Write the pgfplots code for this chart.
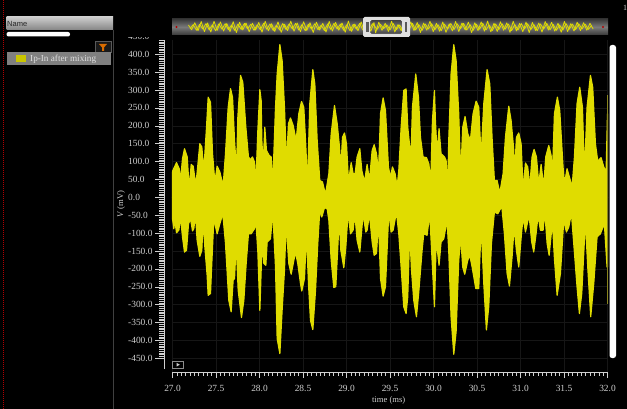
\documentclass[border=0pt]{standalone}
\usepackage{fontspec}
\setmainfont{Liberation Serif}
\newfontfamily\uisans{Liberation Sans}
\usepackage{pgfplots}
\pgfplotsset{compat=1.18}

\definecolor{trace}{HTML}{E0DC00}
\definecolor{tracedim}{HTML}{8A8520}
\definecolor{ticktext}{HTML}{D0D0D0}
\definecolor{gridc}{HTML}{161616}

\pgfplotsset{
  tick label style={
    /pgf/number format/fixed,
    /pgf/number format/fixed zerofill,
    /pgf/number format/precision=1,
    /pgf/number format/1000 sep={},
    /pgf/number format/assume math mode=true,
  },
}

\begin{document}
\begin{tikzpicture}
\path[use as bounding box,fill=black] (0pt,0pt) rectangle (627pt,-409pt);

% side panel
\begin{scope}[x=1pt,y=-1pt]
  \draw[densely dotted,line width=1pt,color=red!70!black] (3.5,0) -- (3.5,409);
  \draw[color=black!75,line width=0.7pt] (113,30) -- (113,409);
  \shade[top color=black!20,bottom color=black!48] (6.5,17) rectangle (113,30);
  \node[anchor=west,inner sep=0pt,text=black!85,font=\uisans\fontsize{7.5}{8}\selectfont] at (7,23.5) {Name};
  \fill[white,rounded corners=2pt] (6.5,32) rectangle (70,36.5);
  \draw[color=black!65,fill=black!90,line width=0.6pt] (95,41) rectangle (111,52);
  \fill[color=orange!85!black] (99,44) -- (107,44) -- (104,47.5) -- (104,51) -- (102,51) -- (102,47.5) -- cycle;
  \fill[color=black!50] (7,52.5) rectangle (111,65.5);
  \fill[color=trace!90!black] (16,55.5) rectangle (26,62);
  \node[anchor=west,inner sep=0pt,text=black!12,font=\fontsize{9.2}{10}\selectfont] at (30,59) {Ip-In after mixing};
  \node[anchor=center,inner sep=0pt,text=ticktext,font=\fontsize{8}{9}\selectfont] at (625,8) {1};
  \shade[top color=black!78,bottom color=black!78,middle color=black!52] (172,19) rectangle (608,35);
  \fill[color=red!70!black] (176.5,27) circle (1.2);
  \fill[color=red!70!black] (603,27) circle (1.2);
\end{scope}

% overview strip
\begin{axis}[
  at={(172pt,-35pt)},anchor=south west,
  scale only axis,width=436pt,height=16pt,
  xmin=2.75,xmax=57.25,ymin=-600,ymax=600,
  hide axis,clip=true,
]
\addplot[color=trace,line width=0.8pt,line join=round] coordinates {
(4.8,150)(5.2,-210)(5.6,320)(6.0,-280)(6.4,410)(6.8,-350)(7.2,300)(7.6,-380)(8.0,430)(8.4,-250)
(8.8,380)(9.2,-300)(9.6,260)(10.0,-340)(10.4,400)(10.8,-420)(11.2,350)(11.6,-220)(12.0,300)(12.4,-360)
(12.8,280)(13.2,-230)(13.6,340)(14.0,-390)(14.4,430)(14.8,-280)(15.2,240)(15.6,-330)(16.0,380)(16.4,-400)
(16.8,210)(17.2,-270)(17.6,440)(18.0,-320)(18.4,300)(18.8,-350)(19.2,390)(19.6,-260)(20.0,320)(20.4,-410)
(20.8,360)(21.2,-230)(21.6,270)(22.0,-380)(22.4,420)(22.8,-300)(23.2,340)(23.6,-240)(24.0,300)(24.4,-390)
(24.8,440)(25.2,-330)(25.6,220)(26.0,-280)(26.4,380)(26.8,-360)(27.2,180)(27.6,-320)(28.0,340)(28.2,-437)
(28.6,357)(29.0,-250)(29.4,278)(29.8,-334)(30.2,427)(30.6,-371)(31.0,180)(31.4,-274)(31.8,341)(32.2,-300)
(32.6,380)(33.0,-260)(33.4,330)(33.8,-410)(34.2,290)(34.6,-240)(35.0,430)(35.4,-350)(35.8,270)(36.2,-320)
(36.6,370)(37.0,-400)(37.4,240)(37.8,-290)(38.2,410)(38.6,-340)(39.0,300)(39.4,-220)(39.8,360)(40.2,-420)
(40.6,320)(41.0,-270)(41.4,380)(41.8,-310)(42.2,440)(42.6,-360)(43.0,280)(43.4,-330)(43.8,390)(44.2,-240)
(44.6,310)(45.0,-400)(45.4,430)(45.8,-290)(46.2,260)(46.6,-350)(47.0,370)(47.4,-420)(47.8,340)(48.2,-260)
(48.6,300)(49.0,-380)(49.4,410)(49.8,-230)(50.2,350)(50.6,-310)(51.0,280)(51.4,-390)(51.8,420)(52.2,-340)
(52.6,250)(53.0,-300)(53.4,360)(53.8,-270)(54.2,320)(54.6,-240)(55.0,280)(55.4,-160)
};
\addplot[color=trace,line width=0.8pt,line join=round] coordinates {
(5.0,-120)(5.4,180)(5.8,-240)(6.2,200)(6.6,-150)(7.0,260)(7.4,-220)(7.8,170)(8.2,-280)(8.6,230)
(9.0,-160)(9.4,250)(9.8,-200)(10.2,150)(10.6,-260)(11.0,220)(11.4,-180)(11.8,270)(12.2,-140)(12.6,210)
(13.0,-250)(13.4,160)(13.8,-210)(14.2,280)(14.6,-170)(15.0,230)(15.4,-260)(15.8,140)(16.2,-220)(16.6,260)
(17.0,-190)(17.4,240)(17.8,-150)(18.2,270)(18.6,-230)(19.0,180)(19.4,-280)(19.8,210)(20.2,-160)(20.6,250)
(21.0,-200)(21.4,140)(21.8,-260)(22.2,230)(22.6,-180)(23.0,270)(23.4,-150)(23.8,220)(24.2,-240)(24.6,170)
(25.0,-280)(25.4,200)(25.8,-160)(26.2,260)(26.6,-220)(27.0,150)(27.4,-230)(27.8,250)(28.4,-170)(28.8,210)
(29.2,-120)(29.6,160)(30.0,-220)(30.4,260)(30.8,-200)(31.2,150)(31.6,-240)(32.0,210)(32.4,-160)(32.8,270)
(33.2,-220)(33.6,180)(34.0,-260)(34.4,230)(34.8,-150)(35.2,250)(35.6,-210)(36.0,170)(36.4,-280)(36.8,220)
(37.2,-160)(37.6,260)(38.0,-190)(38.4,240)(38.8,-140)(39.2,270)(39.6,-230)(40.0,180)(40.4,-250)(40.8,210)
(41.2,-170)(41.6,280)(42.0,-220)(42.4,150)(42.8,-260)(43.2,230)(43.6,-190)(44.0,250)(44.4,-160)(44.8,220)
(45.2,-270)(45.6,180)(46.0,-230)(46.4,260)(46.8,-150)(47.2,240)(47.6,-200)(48.0,170)(48.4,-280)(48.8,230)
(49.2,-160)(49.6,270)(50.0,-210)(50.4,190)(50.8,-250)(51.2,150)(51.6,-230)(52.0,260)(52.4,-170)(52.8,220)
(53.2,-190)(53.6,240)(54.0,-150)(54.4,210)(54.8,-180)(55.2,120)
};
\end{axis}

% selection window on the strip
\begin{scope}[x=1pt,y=-1pt]
  \fill[color=black!12,even odd rule,rounded corners=1.5pt] (363,17) rectangle (410,37) (370,20) rectangle (402,34);
  \fill[color=black!65] (366,22) rectangle (368.5,32);
  \fill[color=black!65] (404.5,22) rectangle (407,32);
\end{scope}

% main plot
\begin{axis}[
  at={(172.5pt,-372pt)},anchor=south west,
  scale only axis,width=435pt,height=332pt,
  xmin=27,xmax=32,ymin=-488.5,ymax=440,
  clip=false,
  axis x line=bottom,axis y line=left,
  x axis line style={-,color=ticktext,line width=0.7pt},
  y axis line style={draw=none},
  xtick={27,27.5,...,32},
  minor x tick num=9,
  ytick={-450,-400,...,400},
  yticklabel=\empty,
  y tick style={draw=none},
  tick align=outside,
  x tick style={color=ticktext,line width=0.6pt},
  major tick length=6pt,minor tick length=3.5pt,
  grid=major,grid style={color=gridc,line width=0.5pt},
  xticklabel style={text=ticktext,font=\fontsize{9.4}{10}\selectfont,yshift=-4pt},
  xlabel={time (ms)},
  xlabel style={text=ticktext,font=\fontsize{8.6}{10}\selectfont,at={(axis description cs:0.497,-0.0843)},anchor=center},
]
\addplot[fill=trace,draw=trace,line width=1.2pt,line join=round,forget plot] coordinates {
(27.000,70)(27.004,75)(27.046,97)(27.077,80)(27.092,47)(27.115,108)(27.138,136)(27.169,113)(27.192,24)(27.215,92)
(27.238,87)(27.268,34)(27.291,89)(27.314,150)(27.337,141)(27.360,75)(27.391,196)(27.410,280)(27.437,266)(27.460,122)
(27.487,43)(27.513,87)(27.544,71)(27.582,32)(27.609,122)(27.640,252)(27.667,304)(27.690,280)(27.713,159)(27.736,71)
(27.751,224)(27.782,341)(27.808,322)(27.843,196)(27.873,113)(27.896,105)(27.919,113)(27.942,99)(27.958,38)(27.981,187)
(28.004,301)(28.019,271)(28.027,159)(28.042,89)(28.061,196)(28.080,131)(28.111,117)(28.134,113)(28.153,40)(28.184,252)
(28.203,345)(28.234,427)(28.260,383)(28.287,252)(28.310,94)(28.333,206)(28.356,222)(28.387,201)(28.421,159)(28.452,234)
(28.483,268)(28.509,252)(28.532,145)(28.552,34)(28.578,262)(28.613,357)(28.636,317)(28.663,159)(28.693,47)(28.724,43)
(28.758,8)(28.797,66)(28.824,178)(28.862,257)(28.893,206)(28.919,141)(28.935,80)(28.954,168)(28.977,180)(29.000,150)
(29.023,43)(29.054,97)(29.076,66)(29.099,66)(29.122,113)(29.153,136)(29.176,75)(29.207,43)(29.237,92)(29.264,47)
(29.295,131)(29.318,147)(29.345,122)(29.368,71)(29.391,234)(29.421,278)(29.448,243)(29.482,85)(29.505,55)(29.528,85)
(29.559,66)(29.582,29)(29.601,75)(29.628,196)(29.658,299)(29.685,303)(29.704,196)(29.727,141)(29.739,92)(29.758,252)
(29.796,345)(29.827,280)(29.850,168)(29.880,113)(29.919,111)(29.946,94)(29.969,47)(29.988,215)(30.011,299)(30.022,215)
(30.041,122)(30.064,192)(30.087,122)(30.126,113)(30.145,103)(30.164,27)(30.175,159)(30.202,345)(30.233,427)(30.260,383)
(30.290,234)(30.313,61)(30.336,196)(30.363,226)(30.394,178)(30.424,159)(30.455,234)(30.490,269)(30.520,252)(30.547,113)
(30.578,262)(30.616,357)(30.647,317)(30.673,168)(30.700,47)(30.731,47)(30.762,12)(30.800,66)(30.827,168)(30.865,255)
(30.892,215)(30.923,131)(30.930,52)(30.953,168)(30.980,180)(31.007,150)(31.030,22)(31.057,96)(31.083,85)(31.106,29)
(31.133,113)(31.156,134)(31.183,113)(31.210,38)(31.237,92)(31.267,29)(31.290,113)(31.325,145)(31.352,117)(31.367,61)
(31.390,234)(31.424,280)(31.451,243)(31.489,85)(31.505,38)(31.535,80)(31.562,57)(31.593,29)(31.620,113)(31.650,262)
(31.681,308)(31.712,252)(31.735,66)(31.765,252)(31.804,341)(31.830,308)(31.861,150)(31.888,101)(31.926,111)(31.957,85)
(31.984,71)(32.000,234)
} \closedcycle;
\addplot[fill=trace,draw=trace,line width=1.2pt,line join=round,forget plot] coordinates {
(27.000,-60)(27.015,-88)(27.027,-64)(27.046,-99)(27.073,-92)(27.092,-55)(27.115,-111)(27.138,-153)(27.161,-148)(27.184,-74)
(27.207,-60)(27.230,-94)(27.245,-88)(27.264,-46)(27.283,-120)(27.314,-165)(27.337,-148)(27.352,-64)(27.372,-139)(27.398,-218)
(27.410,-274)(27.437,-269)(27.448,-204)(27.475,-60)(27.513,-102)(27.544,-74)(27.578,-46)(27.609,-129)(27.647,-288)(27.674,-320)
(27.697,-232)(27.713,-227)(27.732,-129)(27.755,-260)(27.793,-336)(27.820,-288)(27.847,-185)(27.873,-102)(27.904,-102)(27.942,-88)
(27.958,-64)(27.981,-153)(28.004,-316)(28.023,-176)(28.034,-134)(28.050,-185)(28.073,-190)(28.088,-125)(28.126,-116)(28.153,-41)
(28.184,-195)(28.203,-395)(28.234,-437)(28.260,-316)(28.287,-204)(28.306,-74)(28.337,-185)(28.364,-215)(28.395,-176)(28.414,-153)
(28.440,-185)(28.471,-241)(28.486,-262)(28.517,-227)(28.540,-102)(28.563,-241)(28.586,-344)(28.613,-370)(28.644,-260)(28.670,-129)
(28.693,-36)(28.716,-55)(28.747,-29)(28.778,-32)(28.797,-64)(28.824,-176)(28.854,-252)(28.877,-250)(28.900,-139)(28.916,-60)
(28.935,-148)(28.969,-197)(28.992,-139)(29.019,-41)(29.046,-102)(29.076,-92)(29.096,-46)(29.122,-120)(29.153,-153)(29.191,-46)
(29.222,-97)(29.237,-92)(29.264,-46)(29.295,-125)(29.318,-162)(29.345,-157)(29.368,-64)(29.391,-227)(29.421,-276)(29.448,-250)
(29.486,-41)(29.513,-97)(29.536,-92)(29.574,-41)(29.601,-102)(29.628,-195)(29.658,-306)(29.685,-325)(29.704,-278)(29.727,-97)
(29.746,-199)(29.773,-288)(29.804,-334)(29.831,-264)(29.869,-148)(29.888,-102)(29.926,-106)(29.957,-46)(29.984,-176)(30.011,-306)
(30.034,-97)(30.049,-157)(30.064,-190)(30.087,-125)(30.118,-116)(30.156,-64)(30.175,-148)(30.202,-334)(30.233,-439)(30.260,-376)
(30.290,-176)(30.313,-111)(30.336,-195)(30.359,-215)(30.394,-176)(30.417,-162)(30.444,-195)(30.486,-255)(30.520,-255)(30.547,-78)
(30.578,-241)(30.608,-371)(30.635,-306)(30.666,-129)(30.700,-41)(30.739,-46)(30.785,-25)(30.815,-102)(30.846,-213)(30.873,-248)
(30.903,-167)(30.926,-83)(30.953,-148)(30.980,-195)(31.011,-102)(31.030,-55)(31.057,-97)(31.099,-50)(31.129,-125)(31.152,-153)
(31.179,-102)(31.202,-50)(31.229,-92)(31.260,-92)(31.279,-39)(31.306,-129)(31.329,-162)(31.367,-69)(31.390,-171)(31.421,-274)
(31.459,-213)(31.497,-64)(31.528,-97)(31.555,-83)(31.585,-44)(31.612,-129)(31.650,-250)(31.677,-325)(31.704,-269)(31.746,-64)
(31.773,-195)(31.807,-334)(31.842,-241)(31.880,-111)(31.918,-102)(31.964,-74)(31.995,-195)(32.000,-195)
} \closedcycle;
\addplot[color=tracedim,line width=1pt] coordinates {(32.003,285)(32.003,-297)};
\end{axis}

% y ruler, set off to the left of the plot
\begin{axis}[
  at={(164pt,-369pt)},anchor=south west,
  scale only axis,width=8pt,height=332.6pt,
  xmin=0,xmax=1,ymin=-480,ymax=450,
  axis x line=none,axis y line=left,
  y axis line style={-,color=ticktext,line width=0.7pt},
  ytick={-450,-400,...,450},
  minor y tick num=9,
  tick align=outside,
  y tick style={color=ticktext,line width=0.45pt},
  major tick length=9pt,minor tick length=5pt,
  yticklabel style={text=ticktext,font=\fontsize{9.4}{10}\selectfont,anchor=west,inner sep=0pt,xshift=-27pt},
  ylabel={\textit{V} (mV)},
  ylabel style={text=ticktext,font=\fontsize{8.6}{10}\selectfont,at={(axis description cs:-5.375,0.496)},anchor=center},
]
\addplot[draw=none,forget plot] coordinates {(0,0)(1,0)};
\end{axis}

\begin{scope}[x=1pt,y=-1pt]
  % the scale is cut off under the strip
  \fill[black] (120,25) rectangle (171.5,37);
  \fill[black] (153,37) rectangle (171.5,40);
  % scroll bar
  \fill[white,rounded corners=2.5pt] (609.5,45) rectangle (616,358);
  % play button
  \draw[color=black!45,line width=0.6pt] (172.5,361) rectangle (183,368.5);
  \fill[color=black!20] (176.5,362.8) -- (179.8,364.7) -- (176.5,366.6) -- cycle;
\end{scope}
\end{tikzpicture}
\end{document}
